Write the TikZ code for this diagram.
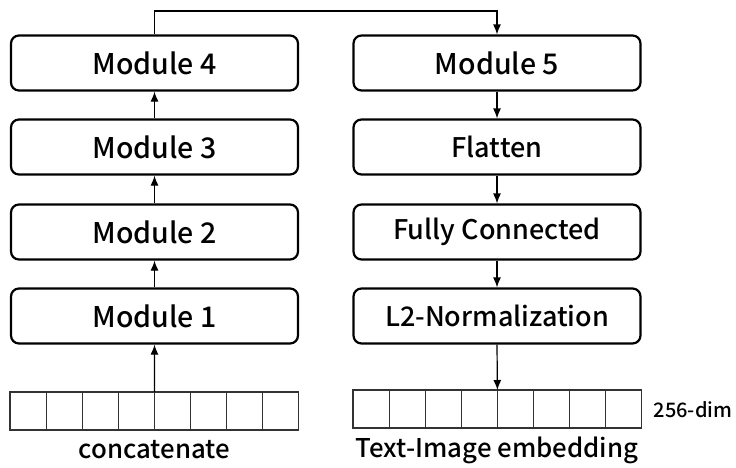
\documentclass[tikz,border=0pt]{standalone}
\usepackage{fontspec}
\setmainfont{Noto Sans CJK KR}[UprightFont=* Medium, BoldFont=* Bold]
\usetikzlibrary{arrows.meta}

\begin{document}
\begin{tikzpicture}[x=1pt,y=-1pt,
  blk/.style={draw=black, line width=2.2pt, rounded corners=8pt,
    minimum width=287pt, minimum height=55pt, inner sep=0pt},
  bigtxt/.style={font=\fontsize{28.5}{31}\selectfont},
  midtxt/.style={font=\fontsize{27}{30}\selectfont},
  cell/.style={draw=black!80, line width=1.2pt, minimum width=36.1pt,
    minimum height=38pt, inner sep=0pt, outer sep=0pt},
  arr/.style={line width=1.2pt, -{Latex[length=10pt,width=8pt]}},
  lbl/.style={font=\fontsize{25.8}{28}\selectfont, inner sep=0pt}]
\useasboundingbox (0,0) rectangle (736,467);

% left column
\node[blk, bigtxt] (m4) at (154.5,63) {Module 4};
\node[blk, bigtxt] (m3) at (154.5,147) {Module 3};
\node[blk, bigtxt] (m2) at (154.5,232) {Module 2};
\node[blk, bigtxt] (m1) at (154.5,316) {Module 1};

% right column
\node[blk, bigtxt] (m5) at (497,63) {Module 5};
\node[blk, midtxt] (fl) at (497,147) {Flatten};
\node[blk, midtxt] (fc) at (497,232) {Fully Connected};
\node[blk, midtxt] (l2) at (497,316) {L2-Normalization};

% input and output vectors
\foreach \i in {1,...,8} {
  \node[cell] (a\i) at ({10+36.1*(\i-0.5)},411) {};
  \node[cell] (b\i) at ({353+36.1*(\i-0.5)},409) {};
}

\node[lbl] (cat) at (154.5,450) {concatenate};
\node[lbl] (emb) at (497,450) {Text-Image embedding};
\node[font=\fontsize{20}{24}\selectfont, inner sep=0pt] (dim) at (693,410) {256-dim};

% connectors
\coordinate (top) at (0,11);
\draw[arr] (a4.north east) -- (m1.south);
\draw[arr] (m1.north) -- (m2.south);
\draw[arr] (m2.north) -- (m3.south);
\draw[arr] (m3.north) -- (m4.south);
\draw[arr] (m4.north) -- (m4.north |- top) -| (m5.north);
\draw[arr] (m5.south) -- (fl.north);
\draw[arr] (fl.south) -- (fc.north);
\draw[arr] (fc.south) -- (l2.north);
\draw[arr] (l2.south) -- (b4.north east);
\end{tikzpicture}
\end{document}
